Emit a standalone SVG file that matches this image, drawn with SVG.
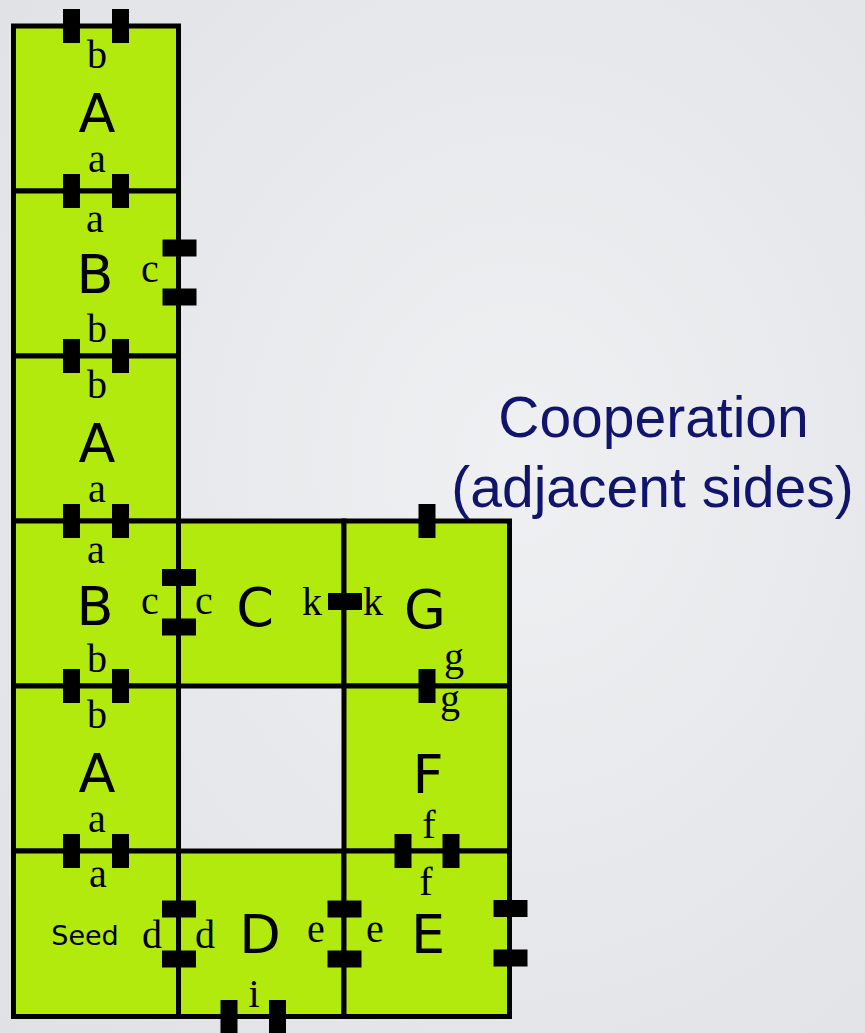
<svg xmlns="http://www.w3.org/2000/svg" width="865" height="1033" viewBox="0 0 865 1033">
<defs>
<radialGradient id="bg" cx="0.6" cy="0.45" r="0.8">
<stop offset="0" stop-color="#eef0f2"/>
<stop offset="1" stop-color="#dfe1e5"/>
</radialGradient>
<rect id="pv" x="-8.5" y="-17" width="17" height="34"/>
<rect id="ph" x="-17" y="-8.5" width="34" height="17"/>
</defs>
<style>
.cell{fill:#b3ea0d;stroke:#000;stroke-width:5}
.big{font-family:"DejaVu Sans",sans-serif;font-size:54px;fill:#000;text-anchor:middle}
.sm{font-family:"Liberation Serif",serif;font-size:40px;fill:#000;text-anchor:middle}
.seed{font-family:"DejaVu Sans",sans-serif;font-size:27px;fill:#000;text-anchor:middle}
.title{font-family:"Liberation Sans",Arial,sans-serif;font-size:57px;fill:#10146a;text-anchor:middle}
.port{fill:#000}
</style>
<rect width="865" height="1033" fill="url(#bg)"/>

<g id="A1">
<rect class="cell" x="13.5" y="26" width="165" height="165"/>
<text class="sm" x="97" y="68">b</text>
<text class="big" x="97" y="132">A</text>
<text class="sm" x="97" y="172">a</text>
</g>
<g id="B1">
<rect class="cell" x="13.5" y="191" width="165" height="165"/>
<text class="sm" x="95" y="232">a</text>
<text class="big" x="95" y="293">B</text>
<text class="sm" x="150" y="282">c</text>
<text class="sm" x="97" y="342">b</text>
</g>
<g id="A2">
<rect class="cell" x="13.5" y="356" width="165" height="165"/>
<text class="sm" x="97" y="398">b</text>
<text class="big" x="97" y="462">A</text>
<text class="sm" x="97" y="502">a</text>
</g>
<g id="B2">
<rect class="cell" x="13.5" y="521" width="165" height="165"/>
<text class="sm" x="96" y="563">a</text>
<text class="big" x="95" y="625">B</text>
<text class="sm" x="150" y="614">c</text>
<text class="sm" x="97" y="672">b</text>
</g>
<g id="C">
<rect class="cell" x="178.5" y="521" width="165.5" height="165"/>
<text class="sm" x="204" y="614">c</text>
<text class="big" x="255" y="626">C</text>
<text class="sm" x="312" y="615">k</text>
</g>
<g id="G">
<rect class="cell" x="344" y="521" width="165.5" height="165"/>
<text class="sm" x="373" y="615">k</text>
<text class="big" x="425" y="628">G</text>
<text class="sm" x="454" y="670">g</text>
</g>
<g id="A3">
<rect class="cell" x="13.5" y="686" width="165" height="165"/>
<text class="sm" x="97" y="728">b</text>
<text class="big" x="97" y="792">A</text>
<text class="sm" x="97" y="832">a</text>
</g>
<g id="F">
<rect class="cell" x="344" y="686" width="165.5" height="165"/>
<text class="sm" x="450" y="712">g</text>
<text class="big" x="428" y="793">F</text>
<text class="sm" x="429" y="838">f</text>
</g>
<g id="Seed">
<rect class="cell" x="13.5" y="851" width="165" height="165.5"/>
<text class="sm" x="98" y="887">a</text>
<text class="seed" x="85" y="945">Seed</text>
<text class="sm" x="152" y="948">d</text>
</g>
<g id="D">
<rect class="cell" x="178.5" y="851" width="165.5" height="165.5"/>
<text class="sm" x="205" y="948">d</text>
<text class="big" x="260" y="953">D</text>
<text class="sm" x="316" y="942">e</text>
<text class="sm" x="254" y="1007">i</text>
</g>
<g id="E">
<rect class="cell" x="344" y="851" width="165.5" height="165.5"/>
<text class="sm" x="375" y="942">e</text>
<text class="big" x="428" y="953">E</text>
<text class="sm" x="426" y="895">f</text>
</g>

<g id="ports" class="port">
<use href="#pv" x="71.5" y="26"/><use href="#pv" x="120.5" y="26"/>
<use href="#pv" x="71.5" y="191"/><use href="#pv" x="120.5" y="191"/>
<use href="#pv" x="71.5" y="356"/><use href="#pv" x="120.5" y="356"/>
<use href="#pv" x="71.5" y="521"/><use href="#pv" x="120.5" y="521"/>
<use href="#pv" x="71.5" y="686"/><use href="#pv" x="120.5" y="686"/>
<use href="#pv" x="71.5" y="851"/><use href="#pv" x="120.5" y="851"/>
<use href="#pv" x="427" y="521"/>
<use href="#pv" x="427" y="686"/>
<use href="#pv" x="403" y="851"/><use href="#pv" x="451" y="851"/>
<use href="#pv" x="229" y="1017"/><use href="#pv" x="277.5" y="1017"/>
<use href="#ph" x="179.5" y="248"/><use href="#ph" x="179.5" y="297"/>
<use href="#ph" x="179" y="577.5"/><use href="#ph" x="179" y="627"/>
<use href="#ph" x="345" y="601.5"/>
<use href="#ph" x="179" y="909"/><use href="#ph" x="179" y="959"/>
<use href="#ph" x="344.5" y="909"/><use href="#ph" x="344.5" y="959"/>
<use href="#ph" x="510.5" y="908.5"/><use href="#ph" x="510.5" y="958"/>
</g>

<g id="connectors"/>

<g id="title">
<text class="title" x="653.5" y="437">Cooperation</text>
<text class="title" x="652.5" y="507">(adjacent sides)</text>
</g>
</svg>
